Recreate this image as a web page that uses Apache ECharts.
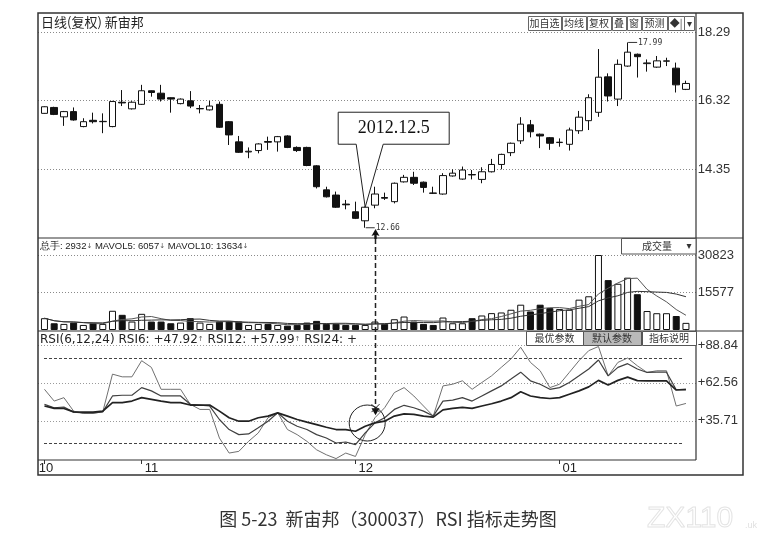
<!DOCTYPE html>
<html><head><meta charset="utf-8">
<script src="https://cdn.jsdelivr.net/npm/echarts@6/dist/echarts.min.js"></script>
<style>html,body{margin:0;padding:0;background:#fff}#c{width:773px;height:540px}</style>
</head><body><div id="c"></div>
<script>
const dates = ['2012-10-18','2012-10-19','2012-10-22','2012-10-23','2012-10-24','2012-10-25','2012-10-26','2012-10-29','2012-10-30','2012-10-31',
'2012-11-01','2012-11-02','2012-11-05','2012-11-06','2012-11-07','2012-11-08','2012-11-09','2012-11-12','2012-11-13','2012-11-14','2012-11-15','2012-11-16','2012-11-19','2012-11-20','2012-11-21','2012-11-22','2012-11-23','2012-11-26','2012-11-27','2012-11-28','2012-11-29','2012-11-30',
'2012-12-03','2012-12-04','2012-12-05','2012-12-06','2012-12-07','2012-12-10','2012-12-11','2012-12-12','2012-12-13','2012-12-14','2012-12-17','2012-12-18','2012-12-19','2012-12-20','2012-12-21','2012-12-24','2012-12-25','2012-12-26','2012-12-27','2012-12-28','2012-12-31',
'2013-01-04','2013-01-07','2013-01-08','2013-01-09','2013-01-10','2013-01-11','2013-01-14','2013-01-15','2013-01-16','2013-01-17','2013-01-18','2013-01-21','2013-01-22','2013-01-23'];

const opens = [15.95,16.12,15.85,16.00,15.57,15.75,15.71,15.57,16.27,16.08,
16.21,16.60,16.53,16.40,16.23,16.31,16.08,16.05,16.21,15.71,
15.13,14.84,14.88,15.14,15.13,15.30,14.97,14.97,14.44,13.75,
13.60,13.34,13.12,12.86,13.31,13.53,13.41,13.98,14.11,13.97,
13.66,13.63,14.15,14.06,14.19,14.05,14.27,14.48,14.82,15.16,
15.62,15.35,15.25,15.11,15.06,15.45,15.74,15.98,17.00,16.36,
17.31,17.65,17.38,17.28,17.45,17.25,16.64];
const closes = [16.14,15.92,16.00,15.76,15.71,15.71,15.72,16.29,16.25,16.27,
16.60,16.55,16.36,16.36,16.36,16.16,16.09,16.16,15.55,15.33,
14.83,14.86,15.07,15.12,15.28,14.97,14.88,14.45,13.84,13.55,
13.25,13.32,12.93,13.25,13.63,13.51,13.94,14.11,13.94,13.82,
13.65,14.16,14.23,14.32,14.18,14.27,14.48,14.77,15.09,15.64,
15.42,15.30,15.09,15.12,15.47,15.84,16.40,16.99,16.45,17.36,
17.71,17.58,17.40,17.46,17.46,16.77,16.81];
const lows = [15.94,15.90,15.59,15.74,15.55,15.66,15.38,15.55,16.16,16.06,
16.19,16.43,16.29,15.97,16.21,16.10,15.95,16.03,15.53,15.04,
14.81,14.66,14.80,14.90,14.85,14.95,14.84,14.43,13.79,13.53,
13.23,13.19,12.91,12.66,13.22,13.46,13.36,13.96,13.89,13.67,
13.63,13.61,14.13,14.04,14.05,13.94,14.25,14.34,14.72,15.07,
15.26,14.95,14.90,14.99,14.88,15.36,15.47,15.85,16.29,16.16,
17.29,16.98,17.15,17.26,17.31,16.55,16.62];
const highs = [16.15,16.14,16.02,16.12,15.81,15.97,15.95,16.31,16.62,16.30,
16.77,16.61,16.77,16.41,16.38,16.59,16.19,16.31,16.29,15.73,
15.30,14.97,15.09,15.28,15.30,15.32,15.00,14.99,14.46,13.84,
13.70,13.46,13.41,13.27,13.84,13.67,13.96,14.18,14.27,13.99,
13.84,14.23,14.34,14.42,14.32,14.40,14.64,14.79,15.11,15.84,
15.76,15.37,15.27,15.23,15.54,16.02,16.50,17.80,17.10,17.50,
17.99,17.67,17.50,17.60,17.55,17.41,16.89];

const volumes = [4850,2770,2500,3050,2080,2770,2500,7900,6240,3470,
6650,3470,3470,2770,3050,4850,3050,2500,3470,3470,
3470,2080,2500,2500,2080,1800,2080,3050,3740,2500,
2500,2080,2080,2080,3470,2500,4430,5540,3470,2500,
2080,5130,2770,2770,4850,5960,6930,7200,8320,10400,
7620,10400,9000,8600,8320,12470,13860,30823,20500,19000,
21500,14700,7800,6900,6900,5750,2932];

const rsi6 = [57.9,49.6,52.0,42.5,40.9,40.9,42.0,68.6,66.7,66.7,
78.1,73.4,57.9,57.9,57.9,47.3,43.7,43.7,23.5,12.9,
14.1,21.2,27.1,37.8,41.3,29.5,25.9,21.2,15.2,11.7,
9.0,12.9,10.5,25.9,37.8,44.9,55.6,59.1,53.2,46.1,
39.0,60.3,61.5,63.9,57.9,62.7,67.4,73.4,79.3,87.6,
76.9,71.0,59.1,61.5,69.8,78.1,85.2,88.1,67.4,76.9,
80.0,74.5,69.8,71.0,71.0,46.1,47.92];
const rsi12 = [47.3,44.9,45.4,41.8,41.3,41.3,42.0,53.2,53.7,53.7,
59.1,56.8,53.2,53.2,53.2,47.3,46.8,46.1,36.6,29.5,
25.9,26.4,30.7,35.4,41.3,35.4,31.8,29.5,25.9,23.5,
20.0,20.7,18.8,27.1,34.2,37.8,43.7,46.6,44.9,42.5,
39.0,49.6,50.3,52.0,49.6,53.2,56.8,60.3,65.1,70.0,
63.9,61.5,57.9,59.1,62.7,67.4,72.2,78.6,67.4,73.4,
76.0,72.2,69.8,70.0,70.0,57.6,57.99];
const rsi24 = [46.1,44.4,44.4,42.0,41.8,41.8,42.5,48.5,48.5,49.6,
52.0,50.8,49.6,48.5,48.5,46.8,46.8,46.8,42.5,37.8,
35.4,35.4,37.8,39.0,41.3,39.0,36.6,34.7,33.0,31.1,
29.5,29.5,28.3,31.8,34.2,35.4,39.0,40.6,40.2,39.0,
38.3,43.4,44.4,45.2,44.4,46.1,47.7,49.6,52.0,56.2,
53.2,52.0,51.4,52.0,54.4,56.8,59.6,64.2,61.0,64.2,
66.5,64.0,63.8,63.8,63.8,57.4,57.6];

const priceTicks = [18.29, 16.32, 14.35];
const volTicks = [30823, 15577];
const rsiTicks = [88.84, 62.56, 35.71];
const rsiBands = [80, 20];
const lowIdx = 33, highIdx = 60, cursorIdx = 34, calloutIdx = 33;
const calloutText = '2012.12.5';

function ma(arr, n) {
  return arr.map((v, i) => {
    const s = arr.slice(Math.max(0, i - n + 1), i + 1);
    return +(s.reduce((a, b) => a + b, 0) / s.length).toFixed(1);
  });
}
const mavol5 = ma(volumes, 5);
const mavol10 = ma(volumes, 10);

const isMonthStart = (i) => i === 0 || dates[i].slice(5, 7) !== dates[i - 1].slice(5, 7);
const GL = 39.6, GW = 651.2;
const labelFont = {fontSize: 13, fontFamily: 'Liberation Sans', color: '#333', margin: 7};
const hiddenY = {splitLine: {show: false}, axisLine: {show: false}, axisTick: {show: false}};

const option = {
  animation: false,
  backgroundColor: '#fff',
  grid: [
    {left: GL, width: GW, top: 32, height: 206},
    {left: GL, width: GW, top: 255, height: 75},
    {left: GL, width: GW, top: 331, height: 129}
  ],
  xAxis: [0, 1, 2].map(k => ({
    type: 'category', gridIndex: k, data: dates, boundaryGap: true,
    axisLine: {show: false},
    splitLine: {show: false},
    axisTick: {show: k === 2, alignWithLabel: true, length: 4, interval: (i) => isMonthStart(i), lineStyle: {color: '#333'}},
    axisLabel: {show: k === 2, interval: (i) => isMonthStart(i), formatter: (v) => v.slice(5, 7),
      align: 'left', alignMinLabel: 'center', padding: [0, 0, 0, 3], margin: 2, fontSize: 13, fontFamily: 'Liberation Sans', color: '#222'}
  })),
  yAxis: [
    Object.assign({type: 'value', gridIndex: 0, position: 'right', min: 12.365, max: 18.29,
      axisLabel: Object.assign({customValues: priceTicks, formatter: v => v.toFixed(2)}, labelFont)}, hiddenY),
    Object.assign({type: 'value', gridIndex: 1, position: 'right', min: 0, max: 30823,
      axisLabel: Object.assign({customValues: volTicks, formatter: v => String(v)}, labelFont)}, hiddenY),
    Object.assign({type: 'value', gridIndex: 2, position: 'right', min: 8, max: 99.06,
      axisLabel: Object.assign({customValues: rsiTicks, formatter: v => '+' + v.toFixed(2)}, labelFont)}, hiddenY)
  ],
  series: [
    {
      type: 'candlestick', xAxisIndex: 0, yAxisIndex: 0, barWidth: 7,
      data: dates.map((d, i) => [opens[i], closes[i], lows[i], highs[i]]),
      itemStyle: {color: '#ffffff', color0: '#111111', borderColor: '#111111', borderColor0: '#111111', borderWidth: 1},
      markPoint: {
        symbol: 'rect', symbolSize: [9, 1], symbolOffset: [5, 0], silent: true,
        itemStyle: {color: '#333'},
        label: {show: true, position: 'right', distance: 1, fontSize: 8, fontFamily: 'DejaVu Sans Mono', color: '#333',
          formatter: p => Number(p.value).toFixed(2)},
        data: [
          {coord: [dates[lowIdx], lows[lowIdx]], value: lows[lowIdx]},
          {coord: [dates[highIdx], highs[highIdx]], value: highs[highIdx]}
        ]
      }
    },
    {
      type: 'bar', xAxisIndex: 1, yAxisIndex: 1, barWidth: 7,
      data: volumes.map((v, i) => ({value: v, itemStyle: closes[i] >= opens[i]
        ? {color: '#ffffff', borderColor: '#111', borderWidth: 1}
        : {color: '#111111', borderColor: '#111', borderWidth: 1}}))
    },
    {type: 'line', xAxisIndex: 1, yAxisIndex: 1, data: mavol5, showSymbol: false, lineStyle: {color: '#555', width: 1}, z: 3},
    {type: 'line', xAxisIndex: 1, yAxisIndex: 1, data: mavol10, showSymbol: false, lineStyle: {color: '#333', width: 1}, z: 3},
    {type: 'line', xAxisIndex: 2, yAxisIndex: 2, data: rsi6, showSymbol: false, lineStyle: {color: '#707070', width: 1}},
    {type: 'line', xAxisIndex: 2, yAxisIndex: 2, data: rsi12, showSymbol: false, lineStyle: {color: '#404040', width: 1.2}},
    {type: 'line', xAxisIndex: 2, yAxisIndex: 2, data: rsi24, showSymbol: false, lineStyle: {color: '#222', width: 1.7}}
  ]
};

const chart = echarts.init(document.getElementById('c'));
chart.setOption(option);

const xPix = (i) => chart.convertToPixel({xAxisIndex: 0}, dates[i]);
const yPix = (ax, v) => chart.convertToPixel({yAxisIndex: ax}, v);
const g = [];
const line = (x1, y1, x2, y2, stroke, w, dash, z) => ({type: 'line', silent: true, z: z || 1,
  shape: {x1, y1, x2, y2}, style: {stroke, lineWidth: w, lineDash: dash || null}});
const text = (t, x, y, size, family, fill, align, extra) => ({type: 'text', silent: true, z: 12,
  style: Object.assign({text: t, x, y, fontSize: size, fontFamily: family, fill, align: align || 'left', verticalAlign: 'middle'}, extra || {})});
const box = (x, y, w, h, fill, stroke) => ({type: 'rect', silent: true, z: 11,
  shape: {x, y, width: w, height: h}, style: {fill, stroke, lineWidth: 1}});

// grid lines
priceTicks.forEach(v => { const y = Math.round(yPix(0, v)) + 0.5; g.push(line(38, y, 696, y, '#8a8a8a', 1, [1, 2])); });
volTicks.forEach(v => { const y = Math.round(yPix(1, v)) + 0.5; g.push(line(38, y, 696, y, '#8a8a8a', 1, [1, 2])); });
rsiTicks.forEach(v => { const y = Math.round(yPix(2, v)) + 0.5; g.push(line(38, y, 696, y, '#9a9a9a', 1, [1, 2])); });
rsiBands.forEach(v => { const y = Math.round(yPix(2, v)) + 0.5; g.push(line(44, y, 684, y, '#444', 1.2, [3, 2])); });

// frame
g.push({type: 'rect', silent: true, z: 10, shape: {x: 38, y: 13, width: 705, height: 462}, style: {fill: 'none', stroke: '#333', lineWidth: 1.5}});
g.push(line(696, 13, 696, 460, '#333', 1.2, null, 10));
g.push(line(38, 238, 743, 238, '#333', 1.2, null, 10));
g.push(line(38, 331, 743, 331, '#333', 1.2, null, 10));
g.push(line(38, 460, 696, 460, '#333', 1.2, null, 10));

// headers
g.push(text('日线(复权) 新宙邦', 41, 22, 13, 'Noto Sans CJK SC', '#222'));
[['加自选', 528, 561], ['均线', 562, 586], ['复权', 587, 611], ['叠', 612, 626], ['窗', 627, 641], ['预测', 642, 667], ['◆|', 668, 684], ['▾', 684, 694]]
  .forEach(b => { g.push(box(b[1] + 0.5, 16.5, b[2] - b[1], 14, '#fff', '#666')); g.push(text(b[0], (b[1] + b[2]) / 2, 23.5, 10, 'Noto Sans CJK SC', '#333', 'center')); });

g.push(text('总手: 2932{a|↓} MAVOL5: 6057{a|↓} MAVOL10: 13634{a|↓}', 40, 246, 9.5, 'Liberation Sans', '#222', 'left',
  {rich: {a: {fontSize: 7, fontFamily: 'DejaVu Sans', fill: '#555'}}}));
g.push(box(621.5, 238.5, 74.5, 15.5, '#fff', '#555'));
g.push(text('成交量', 657, 246.5, 10, 'Noto Sans CJK SC', '#333', 'center'));
g.push(text('▾', 689, 246, 10, 'DejaVu Sans', '#333', 'center'));

g.push(text('RSI(6,12,24) RSI6: +47.92{a|↑} RSI12: +57.99{a|↑} RSI24: +', 40, 339.5, 12, 'DejaVu Sans', '#222', 'left',
  {rich: {a: {fontSize: 7, fontFamily: 'DejaVu Sans', fill: '#555'}}}));
[['最优参数', 526, 583, '#fff'], ['默认参数', 583, 641, '#b9b9b9'], ['指标说明', 642, 696, '#fff']]
  .forEach(b => { g.push(box(b[1] + 0.5, 331.5, b[2] - b[1], 14, b[3], '#555')); g.push(text(b[0], (b[1] + b[2]) / 2, 338.5, 10, 'Noto Sans CJK SC', '#333', 'center')); });

// callout
const tx = xPix(calloutIdx), ty = yPix(0, Math.max(opens[calloutIdx], closes[calloutIdx]));
g.push({type: 'polygon', silent: true, z: 20,
  shape: {points: [[tx - 27, ty - 95], [tx + 84, ty - 95], [tx + 84, ty - 63], [tx + 18, ty - 63], [tx, ty], [tx - 9, ty - 63], [tx - 27, ty - 63]]},
  style: {fill: '#fff', stroke: '#222', lineWidth: 1}});
g.push(Object.assign(text(calloutText, tx + 28.5, ty - 78.5, 18, 'Liberation Serif', '#111', 'center'), {z: 21}));

// cursor line
const cx = Math.round(xPix(cursorIdx)) + 0.5;
const cyEnd = yPix(2, 42.5);
g.push({type: 'polygon', silent: true, z: 15, shape: {points: [[cx, 229], [cx - 4, 236], [cx - 1.2, 235], [cx - 1.2, 239], [cx + 1.2, 239], [cx + 1.2, 235], [cx + 4, 236]]}, style: {fill: '#111'}});
g.push(line(cx, 239, cx, cyEnd, '#222', 1.5, [5, 3], 15));
g.push({type: 'polygon', silent: true, z: 15, shape: {points: [[cx - 4, cyEnd - 3], [cx + 4, cyEnd - 3], [cx, cyEnd + 4]]}, style: {fill: '#111'}});
g.push(line(cx - 4, cyEnd - 7, cx + 4, cyEnd + 1, '#222', 1, null, 15));
g.push(line(cx + 4, cyEnd - 7, cx - 4, cyEnd + 1, '#222', 1, null, 15));

// circle
g.push({type: 'circle', silent: true, z: 15, shape: {cx: xPix(calloutIdx) + 2, cy: yPix(2, 34.1), r: 18}, style: {fill: 'none', stroke: '#222', lineWidth: 1}});

// caption & watermark
g.push(text('图 5-23  新宙邦（300037）RSI 指标走势图', 388, 519, 18, 'Noto Sans CJK SC', '#333', 'center'));
g.push(text('ZX110', 690, 519, 30, 'Liberation Sans', 'rgba(0,0,0,0)', 'center', {stroke: '#e4e4e4', lineWidth: 1}));
g.push(text('.uk', 745, 526, 9, 'Liberation Sans', '#e0e0e0', 'left'));

chart.setOption({graphic: g});
</script>
</body></html>
